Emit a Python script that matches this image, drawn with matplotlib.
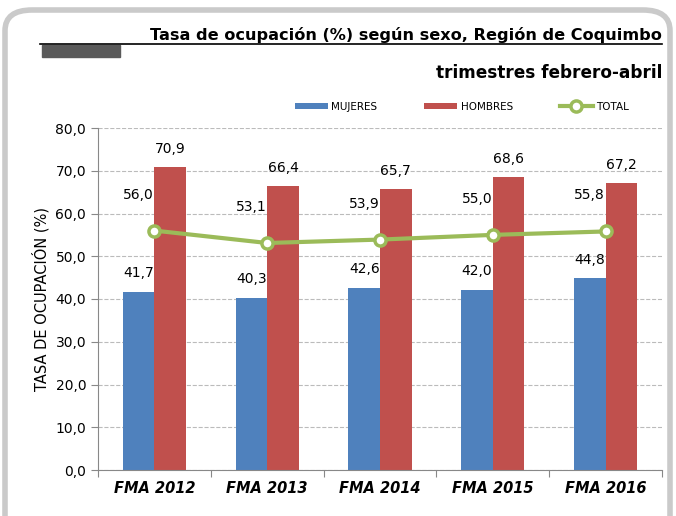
import numpy as np
import matplotlib.pyplot as plt
from matplotlib.patches import FancyBboxPatch, Rectangle
from matplotlib.lines import Line2D

periodos = ["FMA 2012", "FMA 2013", "FMA 2014", "FMA 2015", "FMA 2016"]
mujeres = [41.7, 40.3, 42.6, 42.0, 44.8]
hombres = [70.9, 66.4, 65.7, 68.6, 67.2]
total = [56.0, 53.1, 53.9, 55.0, 55.8]

azul = "#4F81BD"
rojo = "#C0504D"
verde = "#9BBB59"

def coma(v):
    return f"{v:.1f}".replace(".", ",")

W, H = 676, 516
fig = plt.figure(figsize=(W / 100, H / 100), dpi=100)

# marco redondeado gris
fig.patches.append(FancyBboxPatch((5 / W, -40 / H), 665 / W, 546 / H,
                                  boxstyle="round,pad=0,rounding_size=0.04",
                                  transform=fig.transFigure, fill=False,
                                  edgecolor="#CACACA", linewidth=4))

# titulo
fig.text(662 / W, 1 - 40 / H, "Tasa de ocupación (%) según sexo, Región de Coquimbo",
         ha="right", va="baseline", fontsize=11.6, fontweight="bold")
fig.text(662 / W, 1 - 78 / H, "trimestres febrero-abril",
         ha="right", va="baseline", fontsize=12.2, fontweight="bold")
fig.lines.append(Line2D([40 / W, 662 / W], [1 - 44 / H, 1 - 44 / H],
                        transform=fig.transFigure, color="black", linewidth=1.2))
fig.patches.append(Rectangle((42 / W, 1 - 57 / H), 78 / W, 12 / H,
                             transform=fig.transFigure, color="#5A5A5A"))

ax = fig.add_axes([98 / W, 1 - 470 / H, 564 / W, 342 / H])
x = np.arange(len(periodos))
w = 0.28
b1 = ax.bar(x - w / 2, mujeres, w, color=azul, label="MUJERES", zorder=2)
b2 = ax.bar(x + w / 2, hombres, w, color=rojo, label="HOMBRES", zorder=2)
ln, = ax.plot(x, total, color=verde, linewidth=3, marker="o", markersize=8,
              markerfacecolor="white", markeredgecolor=verde, markeredgewidth=2.5,
              label="TOTAL", zorder=3)

for xi, v in zip(x, mujeres):
    ax.text(xi - w / 2, v + 2.8, coma(v), ha="center", va="bottom", fontsize=10)
for xi, v in zip(x, hombres):
    ax.text(xi + w / 2, v + 2.5, coma(v), ha="center", va="bottom", fontsize=10)
for xi, v in zip(x, total):
    ax.text(xi - w / 2, v + 6.8, coma(v), ha="center", va="bottom", fontsize=10)

ax.set_xlim(-0.5, 4.5)
ax.set_ylim(0, 80)
ax.set_yticks(np.arange(0, 81, 10))
ax.set_yticklabels([coma(v) for v in np.arange(0, 81, 10)], fontsize=10)
ax.set_xticks(np.arange(-0.5, 4.6, 1))
ax.set_xticklabels([])
ax.set_xticks(x, minor=True)
ax.set_xticklabels(periodos, minor=True, fontsize=10.5, fontweight="bold",
                   fontstyle="italic")
ax.tick_params(axis="x", which="major", length=5, color="#888888")
ax.tick_params(axis="x", which="minor", length=0, pad=8)
ax.tick_params(axis="y", length=5, color="#888888")
ax.grid(axis="y", linestyle="--", color="#BBBBBB", linewidth=0.8, zorder=0)
for s in ["top", "right"]:
    ax.spines[s].set_visible(False)
ax.spines["left"].set_color("#888888")
ax.spines["bottom"].set_color("#888888")
ax.set_ylabel("TASA DE OCUPACIÓN (%)", fontsize=10.5)

ax.legend(handles=[b1, b2, ln], loc="lower center", bbox_to_anchor=(0.645, 1.02),
          ncol=3, frameon=False, fontsize=7.5, handlelength=3.2,
          columnspacing=4.5, handletextpad=0.3, handleheight=0.6)

fig.savefig("out.png", dpi=100)
